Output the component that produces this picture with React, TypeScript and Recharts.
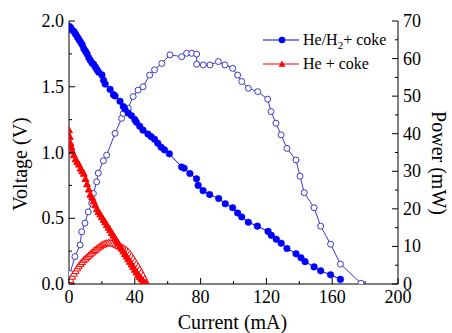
import { ComposedChart, Line, XAxis, YAxis } from 'recharts';

// ── Data ───────────────────────────────────────────

// He/H2 + coke, voltage (V) vs current (mA)
const h2Current = [0, 1, 2, 3, 4, 5, 6, 7, 8, 9, 10, 11, 12, 13, 14, 15, 16, 17, 18, 20, 21, 22, 25, 27, 28, 31, 33, 34, 36, 38, 40, 41, 43, 45, 48, 50, 52, 54, 56, 58, 61, 68.5, 70, 73.5, 77.5, 78.5, 81.5, 85.5, 91, 95, 99.5, 102.5, 105, 109, 114.5, 121, 123, 126, 129, 132.5, 138, 141, 143.5, 149, 153, 159, 165];
const h2Voltage = [1.96, 1.95, 1.93, 1.92, 1.9, 1.88, 1.86, 1.84, 1.82, 1.79, 1.77, 1.75, 1.72, 1.7, 1.68, 1.67, 1.65, 1.63, 1.61, 1.59, 1.55, 1.52, 1.48, 1.44, 1.43, 1.39, 1.35, 1.33, 1.3, 1.28, 1.25, 1.23, 1.2, 1.17, 1.14, 1.12, 1.1, 1.07, 1.04, 1.02, 0.99, 0.89, 0.88, 0.84, 0.8, 0.75, 0.71, 0.68, 0.65, 0.61, 0.58, 0.54, 0.51, 0.47, 0.44, 0.4, 0.37, 0.34, 0.31, 0.27, 0.23, 0.2, 0.17, 0.13, 0.1, 0.07, 0.035];

// He/H2 + coke, power (mW) vs current (mA)
const h2PowerCurrent = [0, 0.6, 3.6, 6.7, 7.7, 9.7, 11.7, 13.8, 14.8, 16.8, 17.8, 20.9, 22.9, 28, 32, 33, 36, 39, 42, 45, 49, 52, 56.4, 61.4, 68.5, 71.5, 74.6, 77.6, 77.6, 81.6, 85.7, 90.8, 94.8, 99.5, 102.5, 105, 109, 114.7, 120.8, 122.8, 125.8, 128.9, 132.5, 138, 140.4, 143, 149, 153, 159, 165, 177.5];
const h2Power = [0, 2.8, 7.3, 10.4, 13.9, 16.2, 19.2, 21.5, 24.1, 27.2, 29.5, 32.8, 34.3, 40.1, 44.1, 45.4, 46.8, 49.9, 51.6, 52.5, 55.6, 57, 58.7, 61, 60.5, 61.4, 61.4, 61.2, 58.5, 58.3, 58.3, 59.2, 58.3, 57.4, 55.6, 53.9, 52.1, 51.2, 49.2, 45.9, 42.8, 39.7, 36.1, 33, 28.7, 24.3, 20.3, 15.4, 10.6, 5.3, 0.2];

// He + coke, voltage (V) vs current (mA)
const heCurrent = [0, 0.5, 1, 1.5, 2, 3, 4, 5, 6, 7, 8, 9, 10, 11, 12, 13, 14, 15, 16, 17, 18, 19, 20, 21, 22, 23, 24, 25, 26, 27, 28, 29, 30, 31, 32, 33, 34, 35, 36, 37, 38, 39, 40, 41, 42, 43, 44, 45, 46, 47];
const heVoltage = [1.17, 1.12, 1.07, 1.04, 1.01, 0.98, 0.95, 0.93, 0.91, 0.88, 0.86, 0.84, 0.8, 0.76, 0.72, 0.68, 0.66, 0.63, 0.6, 0.57, 0.55, 0.53, 0.51, 0.49, 0.47, 0.45, 0.43, 0.41, 0.39, 0.37, 0.35, 0.33, 0.31, 0.29, 0.27, 0.25, 0.23, 0.21, 0.19, 0.17, 0.15, 0.13, 0.11, 0.09, 0.07, 0.055, 0.04, 0.025, 0.012, 0.003];

// He + coke, power (mW) vs current (mA)
const hePowerCurrent = [0, 1, 2, 3, 4, 5, 6, 7, 8, 9, 10, 11, 12, 13, 14, 15, 16, 17, 18, 19, 20, 21, 22, 23, 24, 25, 26, 27, 28, 29, 30, 31, 32, 33, 34, 35, 36, 37, 38, 39, 40, 41, 42, 43, 44, 45, 46, 47];
const hePower = [0.3, 1.1, 2, 2.8, 3.5, 4.2, 4.8, 5.4, 5.9, 6.4, 6.8, 7.2, 7.6, 8, 8.4, 8.8, 9.1, 9.5, 9.8, 10.1, 10.4, 10.6, 10.8, 10.9, 11, 11, 10.9, 10.8, 10.6, 10.4, 10.2, 10, 9.8, 9.6, 9.3, 9, 8.6, 8.1, 7.5, 6.8, 6.1, 5.4, 4.7, 3.9, 3.1, 2.3, 1.4, 0.5];

const currentTicks = [0, 20, 40, 60, 80, 100, 120, 140, 160, 180, 200];
const voltageTicks = [0, 0.25, 0.5, 0.75, 1, 1.25, 1.5, 1.75, 2];
const powerTicks = [0, 5, 10, 15, 20, 25, 30, 35, 40, 45, 50, 55, 60, 65, 70];

const zip = (xs: number[], ys: number[]) => xs.map((x, i) => ({ x, y: ys[i] }));

const h2VoltageData = zip(h2Current, h2Voltage);
const h2PowerData = zip(h2PowerCurrent, h2Power);
const heVoltageData = zip(heCurrent, heVoltage);
const hePowerData = zip(hePowerCurrent, hePower);

// ── Styles ─────────────────────────────────────────

const FONT = '"Liberation Serif", "Times New Roman", Times, serif';
const txt = { fontFamily: FONT };
const BLUE = '#0000ff';
const BLUE_OPEN = '#3a3ac8';
const RED = '#ff0000';

// ── Ticks (inward marks, labels outside) ───────────

function BottomTick({ x, y, payload }: any) {
  const v = payload.value as number;
  const major = v % 40 === 0;
  return (
    <g>
      <line x1={x} x2={x} y1={y} y2={y - (major ? 6 : 3)} stroke="#000" />
      {major && (
        <text x={x} y={y + 19} textAnchor="middle" fontSize={18} style={txt} fill="#000">
          {v}
        </text>
      )}
    </g>
  );
}

function TopTick({ x, y, payload }: any) {
  const major = (payload.value as number) % 40 === 0;
  return <line x1={x} x2={x} y1={y} y2={y + (major ? 6 : 3)} stroke="#000" />;
}

function LeftTick({ x, y, payload }: any) {
  const v = payload.value as number;
  const major = Math.abs(v * 2 - Math.round(v * 2)) < 1e-6;
  return (
    <g>
      <line x1={x} x2={x + (major ? 6 : 3)} y1={y} y2={y} stroke="#000" />
      {major && (
        <text x={x - 5} y={y + 6} textAnchor="end" fontSize={18} style={txt} fill="#000">
          {v.toFixed(1)}
        </text>
      )}
    </g>
  );
}

function RightTick({ x, y, payload }: any) {
  const v = payload.value as number;
  const major = v % 10 === 0;
  return (
    <g>
      <line x1={x} x2={x - (major ? 6 : 3)} y1={y} y2={y} stroke="#000" />
      {major && (
        <text x={x + 5} y={y + 6} textAnchor="start" fontSize={18} style={txt} fill="#000">
          {v}
        </text>
      )}
    </g>
  );
}

// ── Markers ────────────────────────────────────────

const triangle = (fill: string) => (props: any) => {
  const { cx, cy, index } = props;
  if (cx == null || cy == null) return <g key={index} />;
  const s = 3.4;
  return (
    <path
      key={index}
      d={`M${cx},${cy - s}L${cx + s},${cy + s * 0.8}L${cx - s},${cy + s * 0.8}Z`}
      fill={fill}
      stroke={RED}
      strokeWidth={1}
    />
  );
};

// ── Component ──────────────────────────────────────

export default function App() {
  return (
    <div style={{ position: 'absolute', left: 0, top: 0, width: 452, height: 333, background: '#fff' }}>
      <ComposedChart width={452} height={333} margin={{ top: 21, right: 0, bottom: 0, left: 0 }}>
        <XAxis
          xAxisId="b"
          dataKey="x"
          type="number"
          domain={[0, 200]}
          ticks={currentTicks}
          interval={0}
          allowDataOverflow
          height={49}
          tickSize={0}
          tickMargin={0}
          tick={<BottomTick />}
          axisLine={{ stroke: '#000' }}
          label={{
            value: 'Current (mA)',
            content: ({ viewBox }: any) => (
              <text x={viewBox.x + viewBox.width / 2 - 1} y={329} textAnchor="middle" fontSize={20} style={txt} fill="#000">
                Current (mA)
              </text>
            ),
          }}
        />
        <XAxis
          xAxisId="t"
          orientation="top"
          type="number"
          domain={[0, 200]}
          ticks={currentTicks}
          interval={0}
          allowDataOverflow
          height={0}
          tickSize={0}
          tickMargin={0}
          tick={<TopTick />}
          axisLine={{ stroke: '#000' }}
        />
        <YAxis
          yAxisId="v"
          type="number"
          domain={[0, 2]}
          ticks={voltageTicks}
          interval={0}
          allowDataOverflow
          width={69}
          tickSize={0}
          tickMargin={0}
          tick={<LeftTick />}
          axisLine={{ stroke: '#000' }}
          label={{
            value: 'Voltage (V)',
            content: () => (
              <text x={20} y={164} transform="rotate(-90, 20, 164)" textAnchor="middle" dominantBaseline="central" fontSize={20} style={txt} fill="#000">
                Voltage (V)
              </text>
            ),
          }}
        />
        <YAxis
          yAxisId="p"
          orientation="right"
          type="number"
          domain={[0, 70]}
          ticks={powerTicks}
          interval={0}
          allowDataOverflow
          width={54}
          tickSize={0}
          tickMargin={0}
          tick={<RightTick />}
          axisLine={{ stroke: '#000' }}
          label={{
            value: 'Power (mW)',
            content: () => (
              <text x={439} y={163} transform="rotate(90, 439, 163)" textAnchor="middle" dominantBaseline="central" fontSize={20} style={txt} fill="#000">
                Power (mW)
              </text>
            ),
          }}
        />

        <Line
          data={h2PowerData}
          xAxisId="b"
          yAxisId="p"
          dataKey="y"
          type="linear"
          stroke={BLUE_OPEN}
          strokeWidth={1}
          dot={{ r: 3, fill: '#fff', stroke: BLUE_OPEN, strokeWidth: 1 }}
          isAnimationActive={false}
        />
        <Line
          data={hePowerData}
          xAxisId="b"
          yAxisId="p"
          dataKey="y"
          type="linear"
          stroke={RED}
          strokeWidth={1}
          dot={triangle('#fff')}
          isAnimationActive={false}
        />
        <Line
          data={h2VoltageData}
          xAxisId="b"
          yAxisId="v"
          dataKey="y"
          type="linear"
          stroke={BLUE}
          strokeWidth={1}
          dot={{ r: 3.3, fill: BLUE, stroke: BLUE, strokeWidth: 0.5 }}
          isAnimationActive={false}
        />
        <Line
          data={heVoltageData}
          xAxisId="b"
          yAxisId="v"
          dataKey="y"
          type="linear"
          stroke={RED}
          strokeWidth={1}
          dot={triangle(RED)}
          isAnimationActive={false}
        />
      </ComposedChart>

      <div style={{ position: 'absolute', left: 262, top: 28, fontFamily: FONT, fontSize: 16, color: '#000', lineHeight: '24px' }}>
        <div style={{ display: 'flex', alignItems: 'center', height: 24 }}>
          <svg width={38} height={12} style={{ marginRight: 3 }}>
            <line x1={1} x2={37} y1={6} y2={6} stroke={BLUE} strokeWidth={1} />
            <circle cx={20} cy={6} r={3.3} fill={BLUE} />
          </svg>
          <span>
            He/H<sub style={{ fontSize: 11, verticalAlign: -4, lineHeight: 0 }}>2</sub>+ coke
          </span>
        </div>
        <div style={{ display: 'flex', alignItems: 'center', height: 24 }}>
          <svg width={38} height={12} style={{ marginRight: 3 }}>
            <line x1={1} x2={37} y1={6} y2={6} stroke={RED} strokeWidth={1} />
            <path d="M20,2.6L23.4,8.7L16.6,8.7Z" fill={RED} />
          </svg>
          <span>He + coke</span>
        </div>
      </div>
    </div>
  );
}
